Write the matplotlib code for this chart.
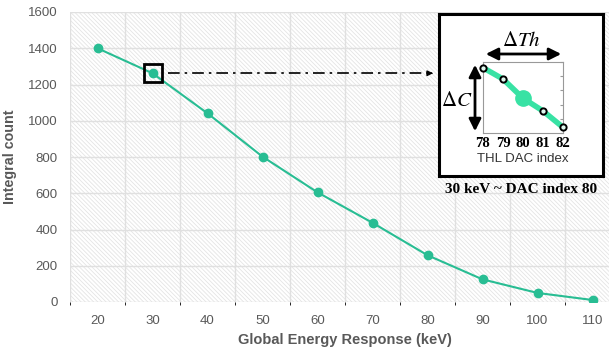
import numpy as np
import matplotlib
matplotlib.use("Agg")
import matplotlib.pyplot as plt
from matplotlib.patches import Rectangle, FancyArrowPatch

plt.rcParams['font.family'] = ['Liberation Sans', 'DejaVu Sans']
plt.rcParams['hatch.linewidth'] = 0.6

# main curve
energy = [20, 30, 40, 50, 60, 70, 80, 90, 100, 110]
counts = [1400, 1262, 1041, 802, 605, 437, 258, 125, 50, 11]

# inset (THL DAC scan around 30 keV)
dac_index = [78, 79, 80, 81, 82]
dac_rel = [0.92, 0.76, 0.49, 0.31, 0.08]
dac_ticks = [78, 79, 80, 81, 82]

W, H = 609, 352
line_col = '#28bd93'
txt_col = '#595959'


def fbox(x0, y0, x1, y1):
    # pixel box (top-left origin) -> figure fraction rect
    return [x0 / W, 1 - y1 / H, (x1 - x0) / W, (y1 - y0) / H]


fig = plt.figure(figsize=(W / 100, H / 100), dpi=100)
ax = fig.add_axes(fbox(70, 12, 620, 302))
ax.set_xlim(15, 115)
ax.set_ylim(0, 1600)

# hatched background
ax.add_patch(Rectangle((0, 0), 1, 1, transform=ax.transAxes, fill=False,
                       hatch='\\' * 8, edgecolor='#e4e4e4', lw=0, zorder=0))
ax.set_xticks(np.arange(15, 116, 5), minor=True)
ax.grid(True, which='minor', axis='x', color='#e0e0e0', lw=1.0, zorder=1)
ax.grid(True, which='major', axis='y', color='#e0e0e0', lw=1.0, zorder=1)
for s in ax.spines.values():
    s.set_visible(False)

ax.plot(energy, counts, color=line_col, lw=1.5, marker='o', ms=6, zorder=3)

ax.set_xticks(energy)
ax.set_yticks(np.arange(0, 1601, 200))
ax.tick_params(length=0, labelsize=9.5, labelcolor=txt_col)
ax.tick_params(axis='x', pad=9)
ax.tick_params(axis='y', pad=9)
ax.set_xlabel('Global Energy Response (keV)', fontsize=10.5, fontweight='bold',
              color=txt_col, labelpad=5)
ax.set_ylabel('Integral count', fontsize=10.3, fontweight='bold',
              color=txt_col, labelpad=8)

# box around the 30 keV point and dash-dot pointer
ax.plot([30], [1262], marker='s', ms=13, mfc='none', mec='black', mew=2, zorder=4)
ax.plot([32.9, 80.3], [1262, 1262], color='black', lw=1.2, ls=(0, (7, 3, 1.5, 3)), zorder=4)
ax.annotate('', xy=(81.0, 1262), xytext=(80.2, 1262),
            arrowprops=dict(arrowstyle='-|>', color='black', lw=1, mutation_scale=8),
            zorder=4)

# inset frame
box = fig.add_axes(fbox(439, 14, 603, 176))
box.set_xticks([])
box.set_yticks([])
box.set_facecolor('white')
for s in box.spines.values():
    s.set_linewidth(2.2)
    s.set_color('black')

ins = fig.add_axes(fbox(483, 62, 563, 133))
ins.set_xlim(78, 82)
ins.set_ylim(0, 1)
ins.plot(dac_index, dac_rel, color='#38e2a4', lw=4, solid_capstyle='round',
         zorder=2, clip_on=False)
ins.plot([80], [dac_rel[2]], 'o', color='#38e2a4', ms=11, zorder=3, clip_on=False)
sm = [0, 1, 3, 4]
ins.plot([dac_index[i] for i in sm], [dac_rel[i] for i in sm], 'o', ms=4.5,
         mfc='#dff7ee', mec='black', mew=1.4, ls='none', zorder=4, clip_on=False)
ins.set_xticks(dac_ticks)
ins.set_xticklabels([str(t) for t in dac_ticks], family='Liberation Serif',
                    fontweight='bold', fontsize=10.5)
ins.set_yticks(np.linspace(0, 1, 6))
ins.set_yticklabels([])
ins.tick_params(axis='x', length=0, pad=3)
ins.tick_params(axis='y', direction='in', length=2, color='#999999',
                right=True, left=False)
for s in ins.spines.values():
    s.set_color('#999999')
    s.set_linewidth(0.8)
ins.set_xlabel('THL DAC index', fontsize=9.5, color='#333333', labelpad=2)

# delta arrows
fig.patches.append(FancyArrowPatch(
    (483 / W, 1 - 54 / H), (564 / W, 1 - 54 / H), transform=fig.transFigure,
    arrowstyle='<|-|>', mutation_scale=18, lw=2, color='black'))
fig.patches.append(FancyArrowPatch(
    (475 / W, 1 - 62 / H), (475 / W, 1 - 134 / H), transform=fig.transFigure,
    arrowstyle='<|-|>', mutation_scale=18, lw=2, color='black'))
fig.text(521 / W, 1 - 41 / H, r'$\Delta Th$', ha='center', va='center',
         fontsize=15, math_fontfamily='stix')
fig.text(457 / W, 1 - 100 / H, r'$\Delta C$', ha='center', va='center',
         fontsize=15, math_fontfamily='stix')
fig.text(521 / W, 1 - 189 / H, '30 keV ~ DAC index 80', ha='center', va='center',
         fontsize=11, fontweight='bold', family='Liberation Serif')

fig.savefig('out.png', dpi=100)
plt.close(fig)
